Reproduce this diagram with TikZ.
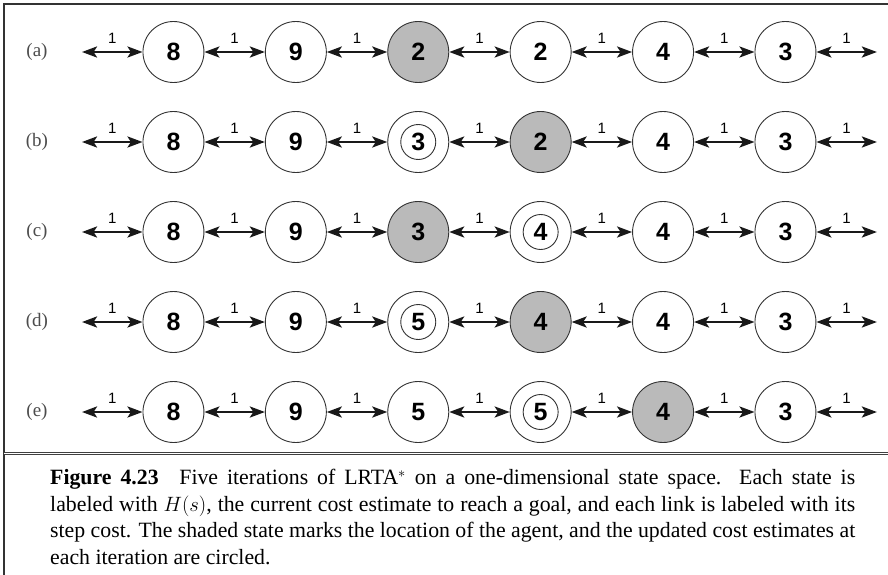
\documentclass[tikz,border=0pt]{standalone}
\usepackage{fontspec}
\setmainfont{Liberation Serif}
\newfontfamily\statefont{Liberation Sans}
\usetikzlibrary{arrows.meta,positioning}

\begin{document}
\begin{tikzpicture}[
  x=1pt, y=-1pt,
  state/.style={circle, draw=black!80, line width=0.9pt, minimum size=61pt, inner sep=0pt,
    font=\statefont\bfseries\fontsize{25}{25}\selectfont},
  agent/.style={state, fill=black!27},
  updated/.style={state, path picture={\draw[black!80, line width=0.9pt] (path picture bounding box.center) circle (17.5pt);}},
  link/.style={line width=2.6pt, black!90, arrows={Stealth[length=15pt,width=11pt,inset=3.5pt]-Stealth[length=15pt,width=11pt,inset=3.5pt]}},
  cost/.style={font=\statefont\fontsize{15}{15}\selectfont, above=4pt, midway, text=black},
  rowlabel/.style={font=\fontsize{19}{19}\selectfont, text=black!70}
]
\useasboundingbox (0,0) rectangle (888,575);

% frame
\draw[line width=1.2pt, black!80] (4,575) -- (4,4) -- (888,4);
\draw[black!75, line width=0.7pt, double, double distance=1.4pt] (4,453.5) -- (888,453.5);

% iterations
\foreach \lab/\y/\states in {
  a/52/{8/state,9/state,2/agent,2/state,4/state,3/state},
  b/142/{8/state,9/state,3/updated,2/agent,4/state,3/state},
  c/232/{8/state,9/state,3/agent,4/updated,4/state,3/state},
  d/322/{8/state,9/state,5/updated,4/agent,4/state,3/state},
  e/412/{8/state,9/state,5/state,5/updated,4/agent,3/state}} {
  \node[rowlabel] (\lab lbl) at (37,\y) {(\lab)};
  \coordinate (\lab0) at (82,\y);
  \foreach \v/\k [count=\i, evaluate=\i as \j using int(\i-1)] in \states
    \node[\k, right=60.5pt of \lab\j] (\lab\i) {\v};
  \coordinate[right=60.5pt of \lab6] (\lab7);
  \foreach \i [evaluate=\i as \n using int(\i+1)] in {0,...,6}
    \draw[link] (\lab\i) -- (\lab\n) node[cost] {1};
}

% caption
\node[anchor=north west, text width=805pt, align=justify, inner sep=0pt,
  font=\fontsize{21.8}{26.5}\selectfont] (caption) at (50,469)
  {\textbf{Figure 4.23}\hspace{0.95em}Five iterations of LRTA$^*$ on a one-dimensional state space. Each state is\linebreak
   labeled with $H(s)$, the current cost estimate to reach a goal, and each link is labeled with its\linebreak
   step cost. The shaded state marks the location of the agent, and the updated cost estimates at\linebreak
   each iteration are circled.};
\end{tikzpicture}
\end{document}
